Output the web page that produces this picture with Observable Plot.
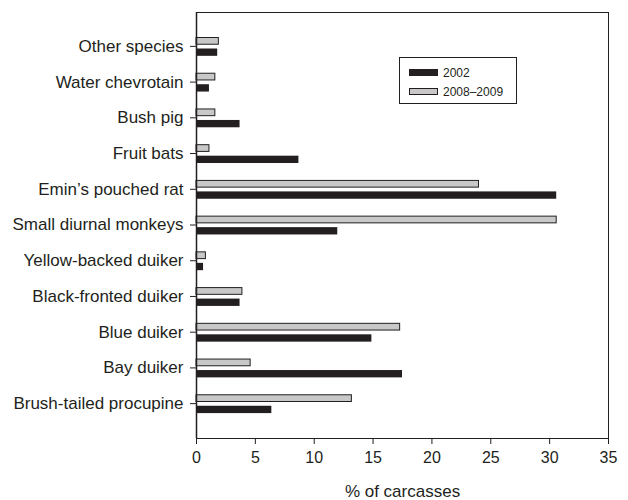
<!DOCTYPE html>
<html>
<head>
<meta charset="utf-8">
<script src="https://cdn.jsdelivr.net/npm/d3@7"></script>
<script src="https://cdn.jsdelivr.net/npm/@observablehq/plot@0.6"></script>
<style>
  html, body { margin: 0; padding: 0; background: #fff; }
  #wrap { position: relative; width: 628px; height: 500px; font-family: "Liberation Sans", Arial, sans-serif; }
  #legend { position: absolute; left: 399px; top: 57px; width: 118px; height: 47px; border: 1px solid #231f20; background: #fff; box-sizing: border-box; }
  .sw { position: absolute; left: 9px; width: 29px; height: 7px; box-sizing: border-box; }
  .lt { position: absolute; left: 43px; font-size: 12px; color: #231f20; line-height: 1; }
</style>
</head>
<body>
<div id="wrap"></div>
<script>
const categories = [
  "Other species",
  "Water chevrotain",
  "Bush pig",
  "Fruit bats",
  "Emin’s pouched rat",
  "Small diurnal monkeys",
  "Yellow-backed duiker",
  "Black-fronted duiker",
  "Blue duiker",
  "Bay duiker",
  "Brush-tailed procupine"
];
const values2002 = [1.8, 1.1, 3.7, 8.7, 30.6, 12.0, 0.6, 3.7, 14.9, 17.5, 6.4];
const values2008 = [1.9, 1.6, 1.6, 1.1, 24.0, 30.6, 0.8, 3.9, 17.3, 4.6, 13.2];
const seriesNames = ["2002", "2008–2009"];
const xTicks = [0, 5, 10, 15, 20, 25, 30, 35];

const d2002 = categories.map((c, i) => ({category: c, value: values2002[i]}));
const d2008 = categories.map((c, i) => ({category: c, value: values2008[i]}));

const dark = "#231f20";
const grey = "#c8c8c8";

const chart = Plot.plot({
  width: 628,
  height: 500,
  marginLeft: 196,
  marginRight: 20,
  marginTop: 12,
  marginBottom: 62,
  style: {fontFamily: "Liberation Sans, Arial, sans-serif", fontSize: "16px", color: dark, background: "#fff"},
  x: {domain: [0, 35]},
  y: {domain: categories, paddingInner: 0, paddingOuter: 0, insetTop: 16, insetBottom: 17, round: false},
  marks: [
    Plot.frame({stroke: dark, strokeWidth: 1}),
    Plot.barX(d2008, {x: "value", y: "category", fill: grey, stroke: dark, strokeWidth: 1, insetTop: 9.5, insetBottom: 19.5}),
    Plot.barX(d2002, {x: "value", y: "category", fill: dark, insetTop: 20.5, insetBottom: 7.9}),
    Plot.ruleX([0], {stroke: dark, strokeWidth: 1.5}),
    Plot.axisX({ticks: xTicks, tickSize: 6, tickPadding: 7, tickFormat: d => String(d), label: null, fontSize: 16, stroke: dark}),
    Plot.axisX({ticks: [], tickSize: 0, label: "% of carcasses", labelAnchor: "center", labelArrow: "none", labelOffset: 58, fontSize: 17}),
    Plot.axisY({tickSize: 6, tickPadding: 7, label: null, fontSize: 17, stroke: dark})
  ]
});
const wrap = document.getElementById("wrap");
wrap.appendChild(chart);

const legend = document.createElement("div");
legend.id = "legend";
legend.innerHTML =
  `<div class="sw" style="top:11px;background:${dark}"></div>` +
  `<div class="lt" style="top:9px">${seriesNames[0]}</div>` +
  `<div class="sw" style="top:30px;background:${grey};border:1px solid ${dark}"></div>` +
  `<div class="lt" style="top:28px">${seriesNames[1]}</div>`;
wrap.appendChild(legend);
</script>
</body>
</html>
